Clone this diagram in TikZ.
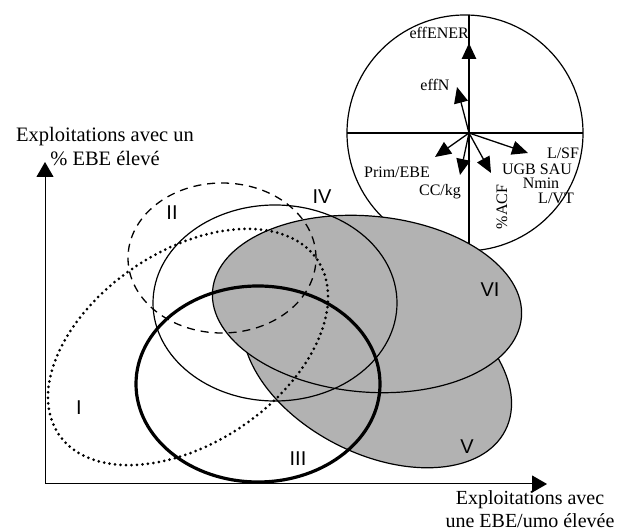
\documentclass[tikz,border=0pt]{standalone}
\usepackage{fontspec}
\setmainfont{Liberation Serif}
\newfontfamily\numfont{Liberation Sans}
\usetikzlibrary{arrows.meta}

\begin{document}
\begin{tikzpicture}[
    x=1pt, y=1pt,
    var/.style={font=\fontsize{16}{16}\selectfont, inner sep=0},
    vector/.style={line width=1.3pt, -{Triangle[length=16pt,width=14pt]}},
    axis/.style={line width=1pt, -{Triangle[length=15pt,width=17pt]}},
    axislabel/.style={font=\fontsize{20.5}{24}\selectfont, align=center, inner sep=0},
    group/.style={font=\numfont\fontsize{20}{20}\selectfont, inner sep=0},
    zone/.style={line width=1.2pt},
    shaded/.style={zone, draw=black, fill=black!30},
    dotty/.style={line width=3pt, line cap=round, dash pattern=on 0pt off 5.5pt},
    dashy/.style={line width=1.3pt, dash pattern=on 8pt off 6pt}
  ]
  \useasboundingbox (0,0) rectangle (631,532);

  % correlation circle
  \draw[line width=1.2pt] (465,399) circle (118);
  \coordinate (o) at (469,399);
  \draw[line width=1.2pt] (347,399) -- (583,399);
  \draw[line width=1.2pt] (469,517) -- (469,281);
  \coordinate (tENER) at (469,489);
  \coordinate (tN) at (457,445);
  \coordinate (tPrim) at (435,375);
  \coordinate (tCC) at (460,357);
  \coordinate (tACF) at (491,359);
  \coordinate (tLSF) at (528,379);
  \draw[vector, line width=2.6pt] (o) -- (tENER);
  \draw[vector] (o) -- (tN);
  \draw[vector] (o) -- (tPrim);
  \draw[vector] (o) -- (tCC);
  \draw[vector] (o) -- (tACF);
  \draw[vector] (o) -- (tLSF);
  \node[var, anchor=east] (effENER) at (469,499) {effENER};
  \node[var] (effN) at (435,447) {effN};
  \node[var] (prim) at (397,360) {Prim/EBE};
  \node[var] (cc) at (440,340) {CC/kg};
  \node[var, rotate=90] (acf) at (502,325) {\%ACF};
  \node[var] (lsf) at (563,379) {L/SF};
  \node[var] (ugb) at (537,363) {UGB SAU};
  \node[var] (nmin) at (541,348.5) {Nmin};
  \node[var] (lvt) at (556,334) {L/VT};

  % groups of farms
  \draw[shaded] (377,167) ellipse [x radius=144, y radius=89, rotate=-27];
  \draw[shaded] (367,228) ellipse [x radius=155, y radius=88, rotate=-5];
  \draw[dotty] (188,185) ellipse [x radius=156, y radius=96, rotate=34];
  \draw[dashy] (222,274) ellipse [x radius=94, y radius=75];
  \draw[zone] (275,229) ellipse [x radius=122, y radius=98];
  \draw[line width=3.2pt] (258,148) ellipse [x radius=122, y radius=98];

  \node[group] (gI) at (79,124) {I};
  \node[group] (gII) at (172,319) {II};
  \node[group] (gIII) at (298,73) {III};
  \node[group] (gIV) at (322,335) {IV};
  \node[group] (gV) at (467,85) {V};
  \node[group] (gVI) at (490,242) {VI};

  % axes
  \coordinate (orig) at (45,48);
  \coordinate (ytip) at (45,370);
  \coordinate (xtip) at (547,48);
  \draw[axis] (orig) -- (ytip);
  \draw[axis] (orig) -- (xtip);
  \node[axislabel] (ylab) at (105,385) {Exploitations avec un\\\% EBE élevé};
  \node[axislabel, font=\fontsize{20}{23}\selectfont] (xlab) at (530,23) {Exploitations avec\\une EBE/umo élevée};
\end{tikzpicture}
\end{document}
